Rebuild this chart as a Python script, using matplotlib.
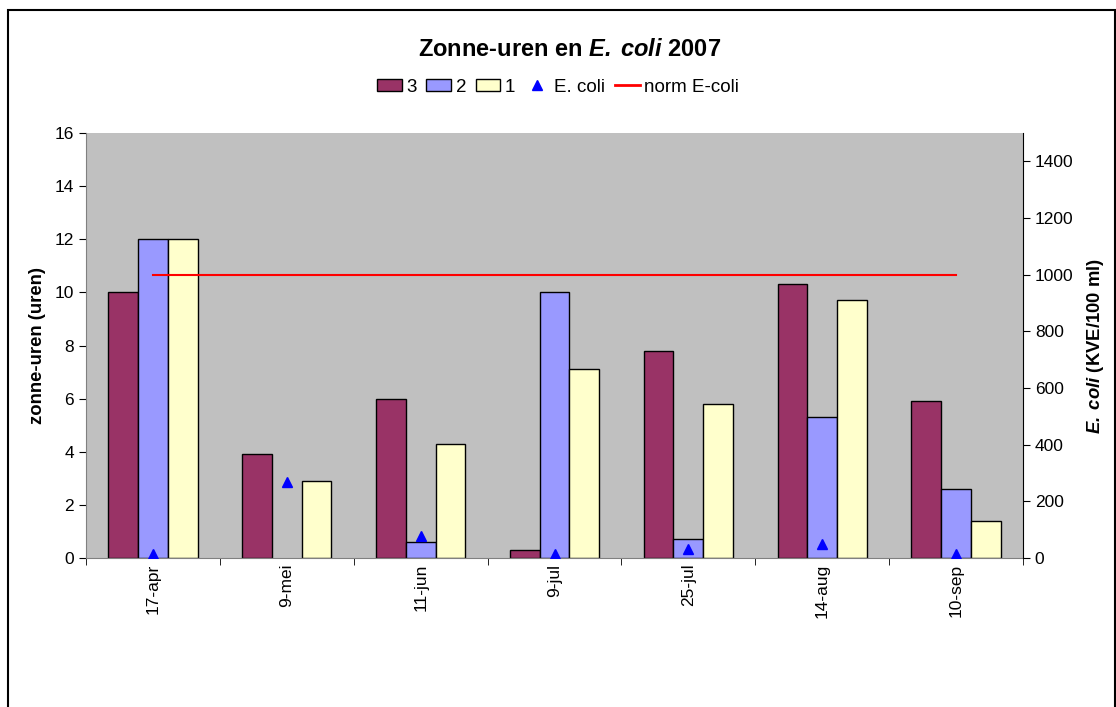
import matplotlib
matplotlib.use("Agg")
import matplotlib.pyplot as plt
import numpy as np
from matplotlib.patches import Patch, Rectangle
from matplotlib.lines import Line2D

plt.rcParams['font.family'] = ['Liberation Sans', 'DejaVu Sans']
plt.rcParams['mathtext.fontset'] = 'custom'
plt.rcParams['mathtext.rm'] = 'Liberation Sans'
plt.rcParams['mathtext.bf'] = 'Liberation Sans:bold'
plt.rcParams['mathtext.it'] = 'Liberation Sans:italic'
plt.rcParams['mathtext.bfit'] = 'Liberation Sans:bold:italic'

categories = ['17-apr', '9-mei', '11-jun', '9-jul', '25-jul', '14-aug', '10-sep']
zone3 = [10.0, 3.9, 6.0, 0.3, 7.8, 10.3, 5.9]
zone2 = [12.0, None, 0.6, 10.0, 0.7, 5.3, 2.6]
zone1 = [12.0, 2.9, 4.3, 7.1, 5.8, 9.7, 1.4]
ecoli = [15, 270, 78, 15, 32, 48, 15]
norm_ecoli = [1000] * 7

fig = plt.figure(figsize=(11.16, 7.07), dpi=100)
W, H = 1116, 707
ax = fig.add_axes([86 / W, 1 - 558 / H, (1023 - 86) / W, (558 - 133) / H])
ax.set_facecolor('#C0C0C0')

x = np.arange(len(categories))
bw = 1 / 4.5
cols = ['#993366', '#9999FF', '#FFFFCC']
for i, (vals, c) in enumerate(zip([zone3, zone2, zone1], cols)):
    v = np.array([np.nan if a is None else a for a in vals], dtype=float)
    ax.bar(x + (i - 1) * bw, v, width=bw, color=c, edgecolor='black', linewidth=1, zorder=2)

ax.set_xlim(-0.5, len(categories) - 0.5)
ax.set_ylim(0, 16)
ax.set_yticks(range(0, 17, 2))
ax.set_xticks(x)
ax.set_xticklabels(categories, rotation=90, fontsize=12.5)
ax.set_xticks(np.arange(-0.5, len(categories), 1), minor=True)
ax.tick_params(axis='x', which='major', length=0, pad=4)
ax.tick_params(axis='x', which='minor', length=5, direction='out')
ax.tick_params(axis='y', labelsize=12.5, length=5, direction='out')
ax.set_ylabel('zonne-uren (uren)', fontsize=13.3, fontweight='bold', labelpad=6)
for s in ['top', 'right']:
    ax.spines[s].set_visible(False)
ax.spines['left'].set_color('#808080')
ax.spines['bottom'].set_color('#808080')

ax2 = ax.twinx()
ax2.set_ylim(0, 1500)
ax2.set_yticks(range(0, 1401, 200))
ax2.tick_params(axis='y', labelsize=12.5, length=5, direction='out')
ax2.plot(x, ecoli, linestyle='none', marker='^', color='#0000FF', markersize=7, zorder=3)
ax2.plot(x, norm_ecoli, color='#FF0000', linewidth=1.5, zorder=3)
for s in ['top', 'left', 'bottom']:
    ax2.spines[s].set_visible(False)
ax2.spines['right'].set_color('black')
ax2.set_ylabel(r'$\mathbfit{E.\;coli}$ (KVE/100 ml)', fontsize=13.3, fontweight='bold', labelpad=8)

fig.text(570 / W, 1 - 49 / H, r'Zonne-uren en $\mathbfit{E.\;coli}$ 2007', ha='center', va='center',
         fontsize=17, fontweight='bold')

handles = [Patch(facecolor=cols[0], edgecolor='black'),
           Patch(facecolor=cols[1], edgecolor='black'),
           Patch(facecolor=cols[2], edgecolor='black'),
           Line2D([], [], linestyle='none', marker='^', color='#0000FF', markersize=7),
           Line2D([], [], color='#FF0000', linewidth=2)]
labels = ['3', '2', '1', 'E. coli', 'norm E-coli']
fig.legend(handles, labels, loc='center', bbox_to_anchor=(0.5, 1 - 87 / H), ncol=5, frameon=False,
           fontsize=13.5, handlelength=1.33, handleheight=0.64, handletextpad=0.25, columnspacing=0.5)

fig.patches.append(Rectangle((7.5 / W, -5 / H), (1114.5 - 7.5) / W, (707 - 10 + 5) / H,
                             transform=fig.transFigure, fill=False, edgecolor='black', linewidth=1.5))

fig.savefig('out.png', dpi=100)
